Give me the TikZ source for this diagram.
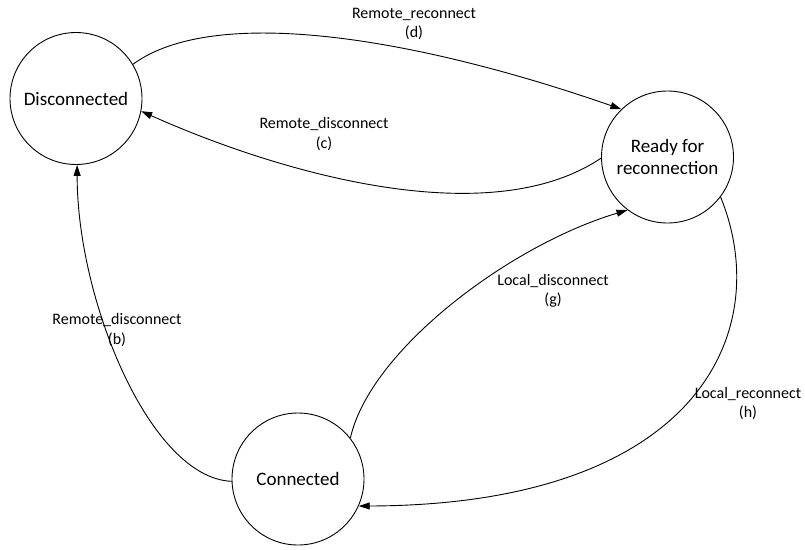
\documentclass[tikz,border=0pt]{standalone}
\usepackage{fontspec}
\setmainfont{Carlito}
\usetikzlibrary{arrows.meta}
\begin{document}
\begin{tikzpicture}[x=1pt,y=-1pt,
  state/.style={circle,draw,line width=0.9pt,minimum size=132pt,inner sep=0pt,
    font=\fontsize{19}{22.6}\selectfont,align=center},
  lbl/.style={font=\fontsize{16}{19.5}\selectfont,align=center,inner sep=0pt},
  tr/.style={line width=0.9pt,-{Triangle[length=11pt,width=7pt]}}]
\useasboundingbox (0,0) rectangle (805,549);
\node[state] (dis) at (76,98.5) {Disconnected};
\node[state] (rdy) at (667.5,157) {Ready for\\reconnection};
\node[state] (con) at (298,479) {Connected};

\draw[tr] (dis.31) .. controls (214.4,4.6) and (414.2,37.1) .. (rdy.134);
\draw[tr] (rdy.181) .. controls (488,234) and (277,172) .. (dis.-11);
\draw[tr] (con.182) .. controls (150,478) and (77,300) .. (dis.-89);
\draw[tr] (con.38) .. controls (370,350) and (510,245) .. (rdy.233);
\draw[tr] (rdy.-37) .. controls (775,330) and (700,505) .. (con.-24);

\node[lbl] (ld) at (414,24) {Remote\_reconnect\\(d)};
\node[lbl] (lc) at (324,134) {Remote\_disconnect\\(c)};
\node[lbl] (lb) at (117,330) {Remote\_disconnect\\(b)};
\node[lbl] (lg) at (553,291) {Local\_disconnect\\(g)};
\node[lbl] (lh) at (748,403.5) {Local\_reconnect\\(h)};
\end{tikzpicture}
\end{document}
